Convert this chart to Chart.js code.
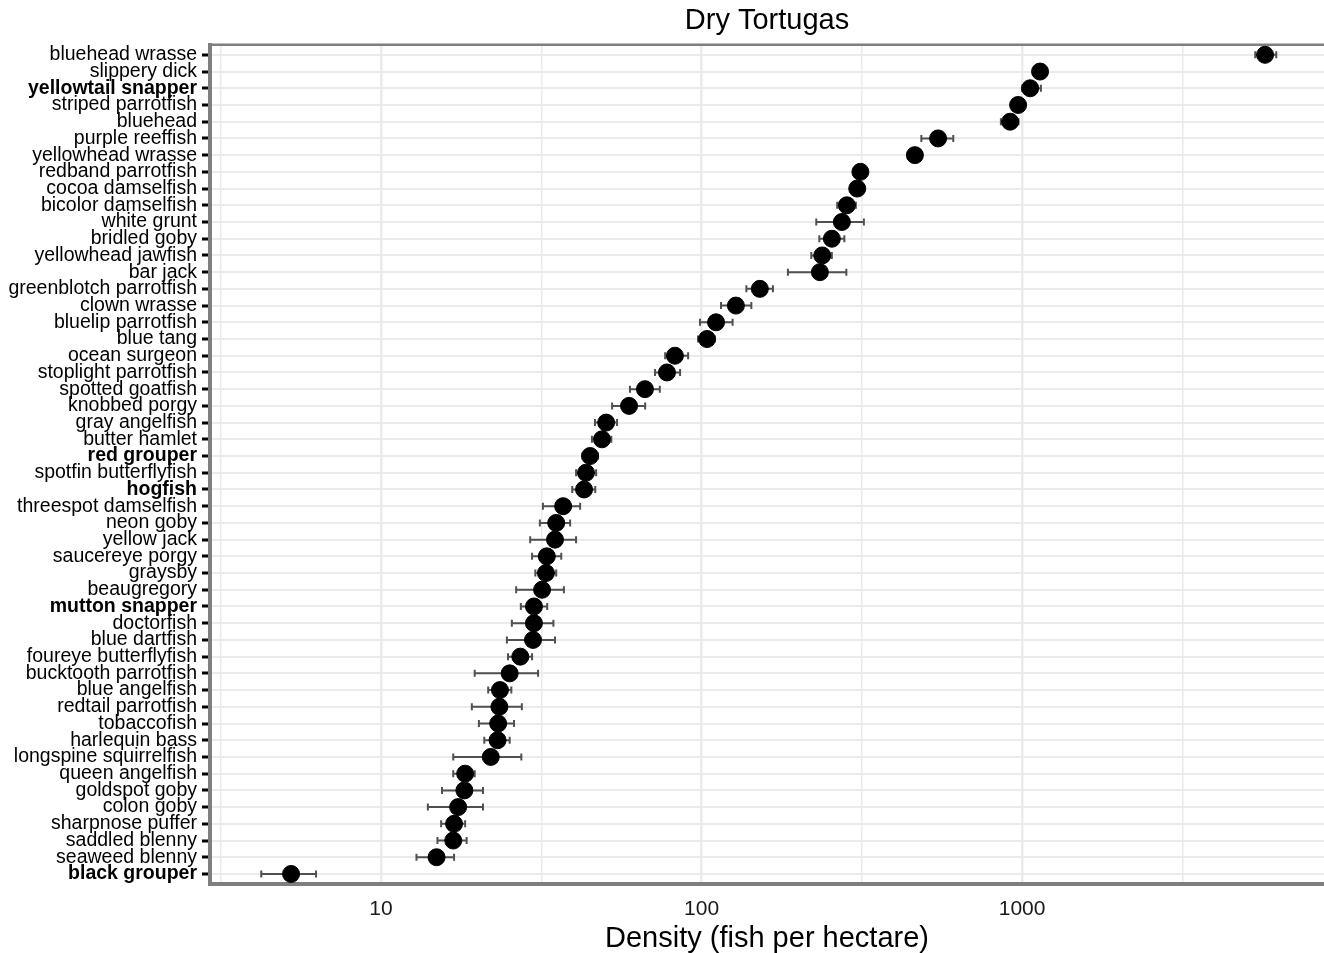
<!DOCTYPE html>
<html lang="en">
<head>
    <meta charset="UTF-8">
    <title>Dry Tortugas</title>
    <script src="https://cdn.jsdelivr.net/npm/chart.js"></script>
    <style>
        body {
            margin: 0;
            background: #fff;
            overflow: hidden;
        }
        canvas {
            display: block;
        }
    </style>
</head>
<body>
    <canvas id="densityChart" width="1324" height="953"></canvas>

    <script>
        // Species, top to bottom
        const species = ['bluehead wrasse', 'slippery dick', 'yellowtail snapper', 'striped parrotfish', 'bluehead',
            'purple reeffish', 'yellowhead wrasse', 'redband parrotfish', 'cocoa damselfish', 'bicolor damselfish',
            'white grunt', 'bridled goby', 'yellowhead jawfish', 'bar jack', 'greenblotch parrotfish',
            'clown wrasse', 'bluelip parrotfish', 'blue tang', 'ocean surgeon', 'stoplight parrotfish',
            'spotted goatfish', 'knobbed porgy', 'gray angelfish', 'butter hamlet', 'red grouper',
            'spotfin butterflyfish', 'hogfish', 'threespot damselfish', 'neon goby', 'yellow jack',
            'saucereye porgy', 'graysby', 'beaugregory', 'mutton snapper', 'doctorfish',
            'blue dartfish', 'foureye butterflyfish', 'bucktooth parrotfish', 'blue angelfish', 'redtail parrotfish',
            'tobaccofish', 'harlequin bass', 'longspine squirrelfish', 'queen angelfish', 'goldspot goby',
            'colon goby', 'sharpnose puffer', 'saddled blenny', 'seaweed blenny', 'black grouper'];

        // fished species get bold labels
        const boldSpecies = ['yellowtail snapper', 'red grouper', 'hogfish', 'mutton snapper', 'black grouper'];

        // density (fish per hectare) with lower / upper error limits
        const density = [5730, 1138, 1060, 972, 918, 547, 463, 313, 306, 284,
            274, 255, 238, 234, 152, 128, 111, 104, 82.6, 78,
            66.6, 59.4, 50.4, 48.9, 44.9, 43.6, 43.0, 37.0, 35.2, 34.9,
            32.9, 32.7, 31.8, 30.0, 30.0, 29.8, 27.2, 25.2, 23.5, 23.4,
            23.2, 23.1, 22.0, 18.3, 18.2, 17.4, 16.9, 16.8, 14.9, 5.24];
        const lower = [5340, 1110, 1000, 950, 859, 485, 450, 305, 298, 265,
            228, 233, 220, 186, 138, 115, 98.9, 97.5, 77, 71.6,
            59.8, 52.6, 46.5, 45.5, 42.5, 40.6, 39.5, 32.0, 31.3, 29.2,
            29.6, 30.3, 26.4, 27.3, 25.6, 24.7, 24.9, 19.6, 21.6, 19.2,
            20.2, 21.0, 16.8, 16.8, 15.5, 14.0, 15.4, 15.0, 12.9, 4.23];
        const upper = [6210, 1165, 1145, 995, 975, 610, 476, 322, 314, 303,
            321, 279, 255, 283, 167, 143, 125, 110, 90.8, 85.7,
            74.1, 66.7, 54.5, 52.3, 47.5, 46.9, 46.6, 41.8, 38.9, 40.6,
            36.5, 35.2, 37.2, 33.0, 34.5, 34.9, 29.6, 30.9, 25.5, 27.5,
            26.0, 25.2, 27.4, 19.6, 20.8, 20.8, 18.3, 18.5, 16.9, 6.27];

        // x axis breaks: labelled decades plus half-decade minor lines
        const majorBreaks = [10, 100, 1000];
        const minorBreaks = [3.1623, 31.623, 316.23, 3162.3];

        const fontFamily = '"Liberation Sans", Arial, sans-serif';
        const gridColor = '#ebebeb';
        const frameColor = '#7f7f7f';

        // horizontal error bars, drawn under the points
        const errorBars = {
            id: 'errorBars',
            beforeDatasetsDraw(chart) {
                const { ctx, scales: { x, y } } = chart;
                ctx.save();
                ctx.strokeStyle = '#505050';
                ctx.lineWidth = 2;
                species.forEach((s, i) => {
                    const py = y.getPixelForValue(i + 1);
                    const x1 = x.getPixelForValue(lower[i]);
                    const x2 = x.getPixelForValue(upper[i]);
                    ctx.beginPath();
                    ctx.moveTo(x1, py);
                    ctx.lineTo(x2, py);
                    ctx.moveTo(x1, py - 3.5);
                    ctx.lineTo(x1, py + 3.5);
                    ctx.moveTo(x2, py - 3.5);
                    ctx.lineTo(x2, py + 3.5);
                    ctx.stroke();
                });
                // panel border along the top
                const area = chart.chartArea;
                ctx.strokeStyle = frameColor;
                ctx.lineWidth = 2.5;
                ctx.beginPath();
                ctx.moveTo(area.left, area.top);
                ctx.lineTo(area.right, area.top);
                ctx.stroke();
                ctx.restore();
            }
        };

        const densityChart = new Chart(document.getElementById('densityChart'), {
            type: 'scatter',
            data: {
                datasets: [{
                    data: species.map((s, i) => ({ x: density[i], y: i + 1 })),
                    pointRadius: 8.5,
                    pointHoverRadius: 8.5,
                    pointBackgroundColor: '#000',
                    pointBorderColor: '#000',
                    pointBorderWidth: 1
                }]
            },
            options: {
                responsive: false,
                animation: false,
                layout: { autoPadding: false, padding: 0 },
                plugins: {
                    legend: { display: false },
                    tooltip: { enabled: false },
                    title: {
                        display: true,
                        text: 'Dry Tortugas',
                        fullSize: false,
                        color: '#000',
                        font: { family: fontFamily, size: 29, weight: 'normal', lineHeight: 1.2 },
                        padding: { top: 4, bottom: 6 }
                    }
                },
                scales: {
                    x: {
                        type: 'logarithmic',
                        min: 2.927,
                        max: 8750,
                        afterBuildTicks: scale => {
                            scale.ticks = [...minorBreaks, ...majorBreaks]
                                .sort((a, b) => a - b)
                                .map(v => ({ value: v }));
                        },
                        afterFit: scale => { scale.height = 69; },
                        ticks: {
                            autoSkip: false,
                            maxRotation: 0,
                            padding: 13,
                            color: '#1a1a1a',
                            font: { family: fontFamily, size: 21 },
                            callback: v => majorBreaks.includes(v) ? String(v) : ''
                        },
                        grid: {
                            color: gridColor,
                            lineWidth: ctx => majorBreaks.includes(ctx.tick && ctx.tick.value) ? 2.5 : 1.5,
                            drawTicks: false
                        },
                        border: { display: true, color: frameColor, width: 4 },
                        title: {
                            display: true,
                            text: 'Density (fish per hectare)',
                            color: '#000',
                            font: { family: fontFamily, size: 29, lineHeight: 1 },
                            padding: { top: 0, bottom: 0 }
                        }
                    },
                    y: {
                        type: 'linear',
                        min: 0.4,
                        max: 50.6,
                        reverse: true,
                        afterBuildTicks: scale => {
                            scale.ticks = species.map((s, i) => ({ value: i + 1 }));
                        },
                        afterFit: scale => { scale.width = 210; },
                        ticks: {
                            autoSkip: false,
                            padding: 5,
                            color: '#000',
                            font: ctx => ({
                                family: fontFamily,
                                size: 19.5,
                                weight: boldSpecies.includes(species[ctx.index]) ? 'bold' : 'normal'
                            }),
                            callback: (v, i) => species[i]
                        },
                        grid: {
                            color: gridColor,
                            lineWidth: 2,
                            tickColor: '#000',
                            tickWidth: 3,
                            tickLength: 8
                        },
                        border: { display: true, color: frameColor, width: 4 }
                    }
                }
            },
            plugins: [errorBars]
        });
    </script>
</body>
</html>
